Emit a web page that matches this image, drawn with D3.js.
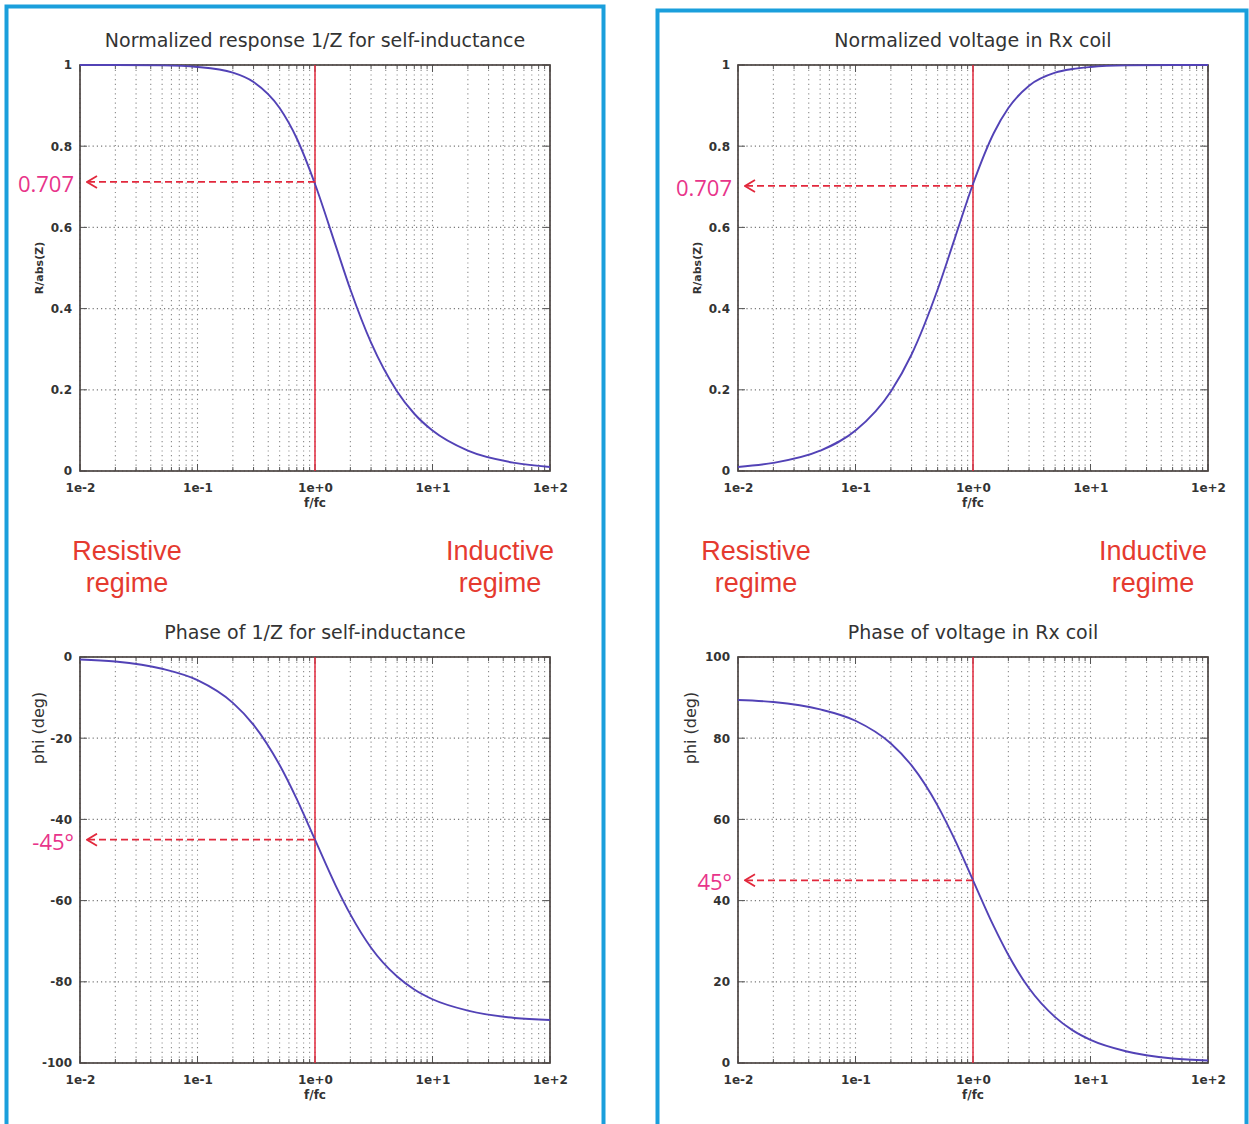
<!DOCTYPE html>
<html>
<head>
<meta charset="utf-8">
<script src="https://cdn.jsdelivr.net/npm/d3@7"></script>
<style>
  body { margin: 0; background: #fff; }
  svg { display: block; }
</style>
</head>
<body>
<div class="canvas"></div>
<script>
// values
const freq = [0.01, 0.02, 0.05, 0.1, 0.2, 0.3, 0.5, 0.7, 1, 1.5, 2, 3, 5, 7, 10, 20, 50, 100]
const magSelf = [1.0, 1.0, 0.999, 0.995, 0.981, 0.958, 0.894, 0.819, 0.707, 0.555, 0.447, 0.316, 0.196, 0.141, 0.0995, 0.05, 0.02, 0.01]
const magRx = [0.01, 0.02, 0.05, 0.0995, 0.196, 0.287, 0.447, 0.573, 0.707, 0.832, 0.894, 0.949, 0.981, 0.990, 0.995, 0.999, 1.0, 1.0]
const phaseSelf = [-0.6, -1.1, -2.9, -5.7, -11.3, -16.7, -26.6, -35.0, -45, -56.3, -63.4, -71.6, -78.7, -81.9, -84.3, -87.1, -88.9, -89.4]
const phaseRx = [89.4, 88.9, 87.1, 84.3, 78.7, 73.3, 63.4, 55.0, 45, 33.7, 26.6, 18.4, 11.3, 8.1, 5.7, 2.9, 1.1, 0.6]

const xTickValues = [0.01, 0.1, 1, 10, 100]
const xTickLabels = ['1e-2', '1e-1', '1e+0', '1e+1', '1e+2']
const magTicks = [0, 0.2, 0.4, 0.6, 0.8, 1]
const magTickLabels = ['0', '0.2', '0.4', '0.6', '0.8', '1']
const phaseSelfTicks = [0, -20, -40, -60, -80, -100]
const phaseRxTicks = [0, 20, 40, 60, 80, 100]

const svg = d3.select('.canvas')
    .append('svg')
    .attr('width', 1249)
    .attr('height', 1124)

// blue panel frames
const blue = '#1a9fdc'
svg.append('rect').attr('x', 6.5).attr('y', 6.5).attr('width', 597).attr('height', 1140)
    .attr('fill', 'none').attr('stroke', blue).attr('stroke-width', 4)
svg.append('rect').attr('x', 657.5).attr('y', 10.5).attr('width', 589).attr('height', 1140)
    .attr('fill', 'none').attr('stroke', blue).attr('stroke-width', 4)

const plotW = 470
const plotH = 406
const curveColor = '#5242b6'
const redLine = '#e2283c'
const pink = '#e8348a'
const labelFont = 'DejaVu Sans, sans-serif'

const panels = [
    { left: 80, top: 65, title: 'Normalized response 1/Z for self-inductance', ylabel: 'R/abs(Z)', ysize: 11, ylabelX: -41,
      domain: [0, 1], ticks: magTicks, tickLabels: magTickLabels, values: magSelf, mark: 0.707, markLabel: '0.707', markDy: -2 },
    { left: 738, top: 65, title: 'Normalized voltage in Rx coil', ylabel: 'R/abs(Z)', ysize: 11, ylabelX: -41,
      domain: [0, 1], ticks: magTicks, tickLabels: magTickLabels, values: magRx, mark: 0.707, markLabel: '0.707', markDy: 2 },
    { left: 80, top: 657, title: 'Phase of 1/Z for self-inductance', ylabel: 'phi (deg)', ysize: 16, ylabelX: -42,
      domain: [-100, 0], ticks: phaseSelfTicks, tickLabels: phaseSelfTicks.map(String), values: phaseSelf, mark: -45, markLabel: '-45°', markDy: 0 },
    { left: 738, top: 657, title: 'Phase of voltage in Rx coil', ylabel: 'phi (deg)', ysize: 16, ylabelX: -48,
      domain: [0, 100], ticks: phaseRxTicks, tickLabels: phaseRxTicks.map(String), values: phaseRx, mark: 45, markLabel: '45°', markDy: 0 }
]

svg.append('defs').append('marker')
    .attr('id', 'arrow')
    .attr('viewBox', '0 0 12 14')
    .attr('refX', 11).attr('refY', 7)
    .attr('markerWidth', 12).attr('markerHeight', 14)
    .attr('markerUnits', 'userSpaceOnUse')
    .attr('orient', 'auto')
    .append('path')
    .attr('d', 'M1,1 L11,7 L1,13')
    .attr('fill', 'none')
    .attr('stroke', redLine)
    .attr('stroke-width', 1.8)

panels.forEach(p => {
    const g = svg.append('g').attr('transform', `translate(${p.left}, ${p.top})`)

    const x = d3.scaleLog().domain([0.01, 100]).range([0, plotW])
    const y = d3.scaleLinear().domain(p.domain).range([plotH, 0])

    // vertical grid at every log tick
    g.append('g').selectAll('line')
        .data(x.ticks())
        .enter().append('line')
        .attr('x1', d => x(d)).attr('x2', d => x(d))
        .attr('y1', 0).attr('y2', plotH)
        .attr('stroke', '#8a8a8a')
        .attr('stroke-width', 1.1)
        .attr('stroke-dasharray', '1.2,3.5')

    // horizontal grid at major ticks
    g.append('g').selectAll('line')
        .data(p.ticks)
        .enter().append('line')
        .attr('x1', 0).attr('x2', plotW)
        .attr('y1', d => y(d)).attr('y2', d => y(d))
        .attr('stroke', '#7a7a7a')
        .attr('stroke-width', 1.2)
        .attr('stroke-dasharray', '1.2,3')

    // small tick marks on top and bottom borders
    const tickG = g.append('g').attr('stroke', '#555').attr('stroke-width', 1)
    x.ticks().forEach(d => {
        const major = xTickValues.includes(d)
        const len = major ? 7 : 4
        tickG.append('line').attr('x1', x(d)).attr('x2', x(d)).attr('y1', plotH).attr('y2', plotH - len)
        tickG.append('line').attr('x1', x(d)).attr('x2', x(d)).attr('y1', 0).attr('y2', len)
    })
    p.ticks.forEach(d => {
        tickG.append('line').attr('x1', 0).attr('x2', 7).attr('y1', y(d)).attr('y2', y(d))
        tickG.append('line').attr('x1', plotW).attr('x2', plotW - 7).attr('y1', y(d)).attr('y2', y(d))
    })

    // frame
    g.append('rect')
        .attr('width', plotW).attr('height', plotH)
        .attr('fill', 'none').attr('stroke', '#4d4643').attr('stroke-width', 1.7)

    // axes text
    const xAxis = d3.axisBottom(x)
        .tickValues(xTickValues)
        .tickFormat((d, i) => xTickLabels[i])
        .tickSize(0).tickPadding(12)
    const xAxisGroup = g.append('g').attr('transform', `translate(0, ${plotH})`).call(xAxis)
    const yAxis = d3.axisLeft(y)
        .tickValues(p.ticks)
        .tickFormat((d, i) => p.tickLabels[i])
        .tickSize(0).tickPadding(8)
    const yAxisGroup = g.append('g').call(yAxis)
    ;[xAxisGroup, yAxisGroup].forEach(ax => {
        ax.select('.domain').remove()
        ax.selectAll('text')
            .attr('font-family', labelFont)
            .attr('font-weight', 'bold')
            .attr('font-size', 12)
            .attr('fill', '#333')
    })

    g.append('text')
        .attr('x', x(1)).attr('y', plotH + 36)
        .attr('text-anchor', 'middle')
        .attr('font-family', labelFont).attr('font-weight', 'bold').attr('font-size', 12)
        .attr('fill', '#333')
        .text('f/fc')

    g.append('text')
        .attr('x', x(1)).attr('y', -18)
        .attr('text-anchor', 'middle')
        .attr('font-family', labelFont).attr('font-size', 19)
        .attr('fill', '#333')
        .text(p.title)

    g.append('text')
        .attr('transform', `translate(${p.ylabelX}, ${p.ysize > 12 ? 71 : 203}) rotate(-90)`)
        .attr('text-anchor', 'middle')
        .attr('dominant-baseline', 'central')
        .attr('font-family', labelFont).attr('font-size', p.ysize)
        .attr('font-weight', p.ysize > 12 ? 'normal' : 'bold')
        .attr('fill', '#333')
        .text(p.ylabel)

    // red line at f = fc
    g.append('line')
        .attr('x1', x(1)).attr('x2', x(1))
        .attr('y1', 0).attr('y2', plotH)
        .attr('stroke', redLine).attr('stroke-width', 1.5)

    // curve
    const line = d3.line()
        .x((d, i) => x(freq[i]))
        .y(d => y(d))
        .curve(d3.curveMonotoneX)
    g.append('path')
        .datum(p.values)
        .attr('d', line)
        .attr('fill', 'none')
        .attr('stroke', curveColor)
        .attr('stroke-width', 1.9)

    // dashed arrow for cut-off value
    const my = y(p.mark) + p.markDy
    g.append('line')
        .attr('x1', x(1)).attr('x2', 7)
        .attr('y1', my).attr('y2', my)
        .attr('stroke', redLine).attr('stroke-width', 1.7)
        .attr('stroke-dasharray', '7,4')
        .attr('marker-end', 'url(#arrow)')
    g.append('text')
        .attr('x', -6).attr('y', my + 1)
        .attr('text-anchor', 'end')
        .attr('dominant-baseline', 'central')
        .attr('font-family', 'Open Sans, sans-serif').attr('font-size', 22)
        .attr('fill', pink)
        .text(p.markLabel)
})

// regime labels
const regimes = [
    { cx: 127, text: 'Resistive' }, { cx: 500, text: 'Inductive' },
    { cx: 756, text: 'Resistive' }, { cx: 1153, text: 'Inductive' }
]
regimes.forEach(r => {
    svg.append('text')
        .attr('x', r.cx).attr('y', 560)
        .attr('text-anchor', 'middle')
        .attr('font-family', 'Liberation Sans, Arial, sans-serif').attr('font-size', 27)
        .attr('fill', '#e53a2f')
        .text(r.text)
    svg.append('text')
        .attr('x', r.cx).attr('y', 592)
        .attr('text-anchor', 'middle')
        .attr('font-family', 'Liberation Sans, Arial, sans-serif').attr('font-size', 27)
        .attr('fill', '#e53a2f')
        .text('regime')
})
</script>
</body>
</html>
